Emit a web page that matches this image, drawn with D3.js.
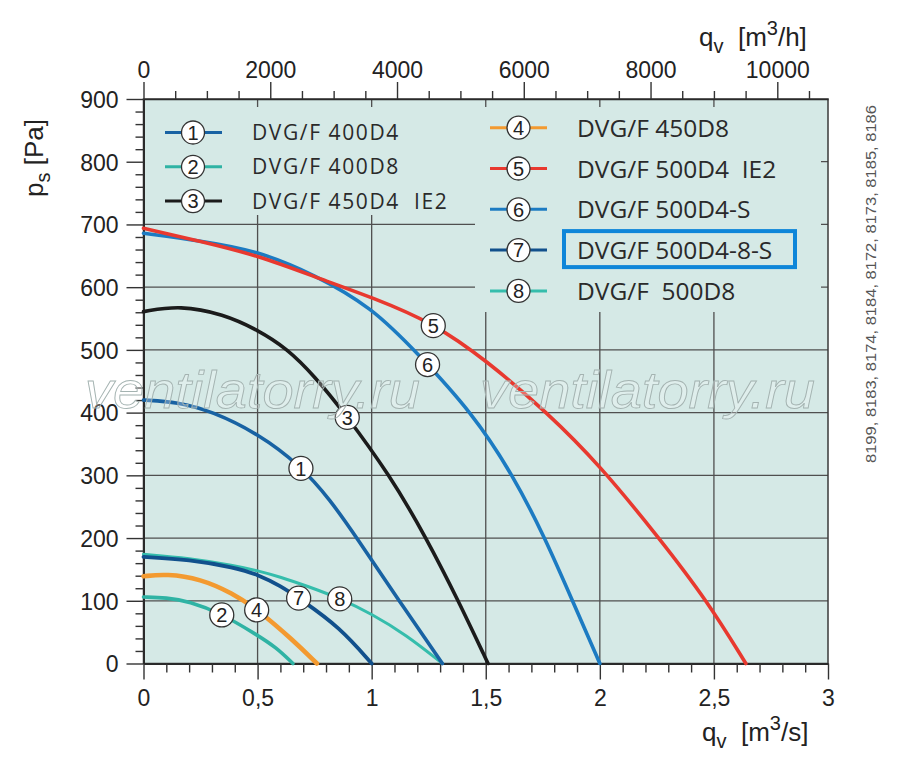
<!DOCTYPE html>
<html>
<head>
<meta charset="utf-8">
<script src="https://cdn.jsdelivr.net/npm/d3@7"></script>
<style>
  html, body { margin: 0; padding: 0; background: #fff; }
  svg text { font-family: "Liberation Sans", Arial, sans-serif; }
  .leg { font-family: "Open Sans", sans-serif; fill: #2a2a2a; white-space: pre; }
</style>
</head>
<body>
<div id="chart"></div>
<script>
// fan curves, [qv in m3/s, ps in Pa]
const curve1 = [[0,420],[0.15,417],[0.3,402],[0.5,367],[0.69,315],[0.82,260],[0.93,203],[1.12,100],[1.31,0]];
const curve2 = [[0,106],[0.1,105],[0.2,99],[0.34,80],[0.5,45],[0.58,26],[0.655,0]];
const curve3 = [[0,561],[0.16,571],[0.35,557],[0.5,532],[0.63,502],[0.75,458],[0.88,400],[1.08,300],[1.24,200],[1.38,100],[1.51,0]];
const curve4 = [[0,139],[0.1,143],[0.25,135],[0.39,112],[0.5,86],[0.656,37],[0.76,0]];
const curve5 = [[0,694],[0.25,673],[0.5,651],[0.79,611],[1.0,584],[1.27,543],[1.5,484],[1.77,400],[2.0,316],[2.26,200],[2.47,100],[2.64,0]];
const curve6 = [[0,686],[0.25,674],[0.5,658],[0.75,620],[1.0,568],[1.2,495],[1.44,400],[1.62,300],[1.76,200],[1.88,100],[2.0,0]];
const curve7 = [[0,170],[0.2,166],[0.4,153],[0.5,142],[0.6,124],[0.69,102],[0.86,58],[1.0,0]];
const curve8 = [[0,174],[0.2,168],[0.4,156],[0.5,148],[0.6,138],[0.72,123],[0.86,104],[1.0,79],[1.15,46],[1.31,0]];

const curveNames = ["DVG/F 400D4", "DVG/F 400D8", "DVG/F 450D4  IE2", "DVG/F 450D8",
                    "DVG/F 500D4  IE2", "DVG/F 500D4-S", "DVG/F 500D4-8-S", "DVG/F  500D8"];
const curveColors = ["#1862a3", "#2fb3a4", "#1b1b1b", "#f39a30", "#e8392f", "#1c7bc2", "#11508c", "#35bdac"];
// flow (m3/s) where the numbered marker sits on each curve
const labelQ = [0.69, 0.343, 0.893, 0.496, 1.27, 1.245, 0.68, 0.86];
const highlighted = 6;

const xMajor = [0, 0.5, 1, 1.5, 2, 2.5, 3];
const yMajor = [0, 100, 200, 300, 400, 500, 600, 700, 800, 900];
const topMajor = [0, 2000, 4000, 6000, 8000, 10000];
const fanCodes = "8199, 8183, 8174, 8184, 8172, 8173, 8185, 8186";
const watermark = "ventilatorry.ru";

(function () {
    const curves = [curve1, curve2, curve3, curve4, curve5, curve6, curve7, curve8];
    const width = 900, height = 781;
    const bg = "#d5e9e6";

    const x = d3.scaleLinear().domain([0, 3]).range([143.5, 828]);
    const y = d3.scaleLinear().domain([0, 900]).range([663.5, 99]);
    const xTop = d3.scaleLinear().domain([0, 3 * 3600]).range([143.5, 828]);

    const svg = d3.select("#chart").append("svg")
        .attr("width", width)
        .attr("height", height);

    // plot background
    svg.append("rect")
        .attr("x", x(0)).attr("y", y(900))
        .attr("width", x(3) - x(0)).attr("height", y(0) - y(900))
        .attr("fill", bg);

    // grid
    const grid = svg.append("g").attr("stroke", "#4f4f4f").attr("stroke-width", 1.3);
    grid.selectAll("line.v").data(xMajor.slice(1, -1)).join("line").attr("class", "v")
        .attr("x1", d => x(d)).attr("x2", d => x(d))
        .attr("y1", y(900)).attr("y2", y(0));
    grid.selectAll("line.h").data(yMajor.slice(1, -1)).join("line").attr("class", "h")
        .attr("x1", x(0)).attr("x2", x(3))
        .attr("y1", d => y(d)).attr("y2", d => y(d));

    // legend panels hide the grid
    svg.append("rect").attr("x", x(0) + 1).attr("y", 107)
        .attr("width", 821 - x(0) - 1).attr("height", 108).attr("fill", bg);
    svg.append("rect").attr("x", 475).attr("y", 214)
        .attr("width", 346).attr("height", 98).attr("fill", bg);

    // frame
    svg.append("rect")
        .attr("x", x(0)).attr("y", y(900))
        .attr("width", x(3) - x(0)).attr("height", y(0) - y(900))
        .attr("fill", "none").attr("stroke", "#3a3a3a").attr("stroke-width", 1.5);

    // axes
    const fmtComma = d => String(d).replace(".", ",");
    const isMajorX = d => xMajor.some(m => Math.abs(m - d) < 1e-6);

    const bottom = svg.append("g")
        .attr("transform", `translate(0,${y(0)})`)
        .call(d3.axisBottom(x).tickValues(d3.range(0, 31).map(i => i / 10))
            .tickSizeOuter(0)
            .tickFormat(d => isMajorX(d) ? fmtComma(+d.toFixed(1)) : ""));
    bottom.selectAll(".tick line").attr("y2", d => isMajorX(d) ? 16 : 9);
    bottom.selectAll(".tick text").attr("y", 42).attr("dy", 0);

    const left = svg.append("g")
        .attr("transform", `translate(${x(0)},0)`)
        .call(d3.axisLeft(y).tickValues(d3.range(0, 901, 20))
            .tickSizeOuter(0)
            .tickFormat(d => d % 100 === 0 ? d : ""));
    left.selectAll(".tick line").attr("x2", d => d % 100 === 0 ? -17 : -8);
    left.selectAll(".tick text").attr("x", -25).attr("dy", "0.36em");

    const top = svg.append("g")
        .attr("transform", `translate(0,${y(900)})`)
        .call(d3.axisTop(xTop).tickValues(d3.range(0, 10501, 500))
            .tickSizeOuter(0)
            .tickFormat(d => topMajor.includes(d) ? d : ""));
    top.selectAll(".tick line").attr("y2", d => d % 2000 === 0 ? -17 : -8);
    top.selectAll(".tick text").attr("y", -21).attr("dy", 0);

    [bottom, left, top].forEach(g => {
        g.selectAll(".tick line").attr("stroke", "#333").attr("stroke-width", 1.4);
        g.selectAll(".tick text").attr("font-size", 23).attr("fill", "#222")
            .attr("font-family", "'Liberation Sans', Arial, sans-serif");
        g.select(".domain").attr("stroke", "#2a2a2a").attr("stroke-width", 2);
    });
    top.select(".domain").attr("stroke-width", 1.5);

    // curves
    const line = d3.line()
        .x(d => x(d[0]))
        .y(d => y(d[1]))
        .curve(d3.curveBasis);
    const widths = [3.6, 3.6, 3.6, 4.6, 3.6, 3.6, 3.8, 3];
    const order = [7, 6, 1, 3, 0, 2, 5, 4];
    const paths = [];
    svg.append("g").selectAll("path")
        .data(order)
        .join("path")
        .attr("d", i => line(curves[i]))
        .attr("fill", "none")
        .attr("stroke", i => curveColors[i])
        .attr("stroke-width", i => widths[i])
        .attr("stroke-linecap", "round")
        .each(function (i) { paths[i] = this; });

    // find the drawn point of a curve at a given flow
    function pointAt(node, px) {
        let lo = 0, hi = node.getTotalLength();
        for (let k = 0; k < 40; k++) {
            const mid = (lo + hi) / 2;
            if (node.getPointAtLength(mid).x < px) lo = mid; else hi = mid;
        }
        return node.getPointAtLength((lo + hi) / 2);
    }

    // numbered markers on the curves
    const marks = svg.append("g").selectAll("g")
        .data(curves.map((c, i) => ({ n: i + 1, pt: pointAt(paths[i], x(labelQ[i])) })))
        .join("g")
        .attr("transform", d => `translate(${d.pt.x},${d.pt.y})`);
    marks.append("circle").attr("r", 12).attr("fill", "#fff")
        .attr("stroke", "#333").attr("stroke-width", 1.3);
    marks.append("text").text(d => d.n)
        .attr("text-anchor", "middle").attr("dy", "0.36em")
        .attr("font-size", 20).attr("fill", "#222");

    // legend
    const legendPos = curveNames.map((name, i) => i < 3
        ? { x1: 165, x2: 222, cx: 193, cy: 132.5 + i * 34.3, tx: 252, fs: 21, ls: 1.6, dy: 7.5 }
        : { x1: 490, x2: 547, cx: 518.5, cy: 127.7 + (i - 3) * 40.8, tx: 577, fs: 24.5, ls: 0, dy: 9 });
    const leg = svg.append("g").selectAll("g")
        .data(curveNames.map((name, i) => ({ name, i, ...legendPos[i] })))
        .join("g");
    leg.append("line")
        .attr("x1", d => d.x1).attr("x2", d => d.x2)
        .attr("y1", d => d.cy).attr("y2", d => d.cy)
        .attr("stroke", d => curveColors[d.i]).attr("stroke-width", 3);
    leg.append("circle")
        .attr("cx", d => d.cx).attr("cy", d => d.cy).attr("r", 11.5)
        .attr("fill", "#fff").attr("stroke", "#333").attr("stroke-width", 1.3);
    leg.append("text")
        .attr("x", d => d.cx).attr("y", d => d.cy).attr("dy", "0.36em")
        .attr("text-anchor", "middle").attr("font-size", 20).attr("fill", "#222")
        .text(d => d.i + 1);
    leg.append("text")
        .attr("class", "leg")
        .attr("x", d => d.tx).attr("y", d => d.cy + d.dy)
        .attr("font-size", d => d.fs)
        .attr("letter-spacing", d => d.ls)
        .text(d => d.name);

    const hp = legendPos[highlighted];
    svg.append("rect")
        .attr("x", hp.tx - 13).attr("y", hp.cy - 19)
        .attr("width", 231).attr("height", 36)
        .attr("fill", "none").attr("stroke", "#0e86d9").attr("stroke-width", 4);

    // axis titles
    const yTitle = svg.append("text")
        .attr("transform", "translate(43,158) rotate(-90)")
        .attr("text-anchor", "middle").attr("font-size", 26).attr("fill", "#222");
    yTitle.append("tspan").text("p");
    yTitle.append("tspan").attr("dy", 7).attr("font-size", 20).text("s");
    yTitle.append("tspan").attr("dy", -7).text(" [Pa]");

    function flowTitle(tx, ty, unit) {
        const t = svg.append("text").attr("x", tx).attr("y", ty)
            .attr("font-size", 26).attr("fill", "#222");
        t.append("tspan").text("q");
        t.append("tspan").attr("dy", 7).attr("font-size", 20).text("v");
        t.append("tspan").attr("dy", -7).text("\u00a0\u00a0[m");
        t.append("tspan").attr("dy", -11).attr("font-size", 20).text("3");
        t.append("tspan").attr("dy", 11).text("/" + unit + "]");
    }
    flowTitle(702, 741, "s");
    flowTitle(699, 46, "h");

    // fan codes at the right
    svg.append("text")
        .attr("transform", "translate(876,284) rotate(-90)")
        .attr("text-anchor", "middle")
        .attr("font-family", "'Open Sans', sans-serif")
        .attr("font-size", 15.5).attr("fill", "#555")
        .attr("textLength", 358).attr("lengthAdjust", "spacingAndGlyphs")
        .text(fanCodes);

    // watermark
    svg.append("g").selectAll("text")
        .data([85, 480])
        .join("text")
        .attr("x", d => d).attr("y", 408)
        .attr("font-size", 52).attr("font-style", "italic")
        .attr("textLength", 335).attr("lengthAdjust", "spacingAndGlyphs")
        .attr("fill", "#fff").attr("fill-opacity", 0.25)
        .attr("stroke", "#a4b3b1").attr("stroke-width", 0.9)
        .text(watermark);
}());
</script>
</body>
</html>
